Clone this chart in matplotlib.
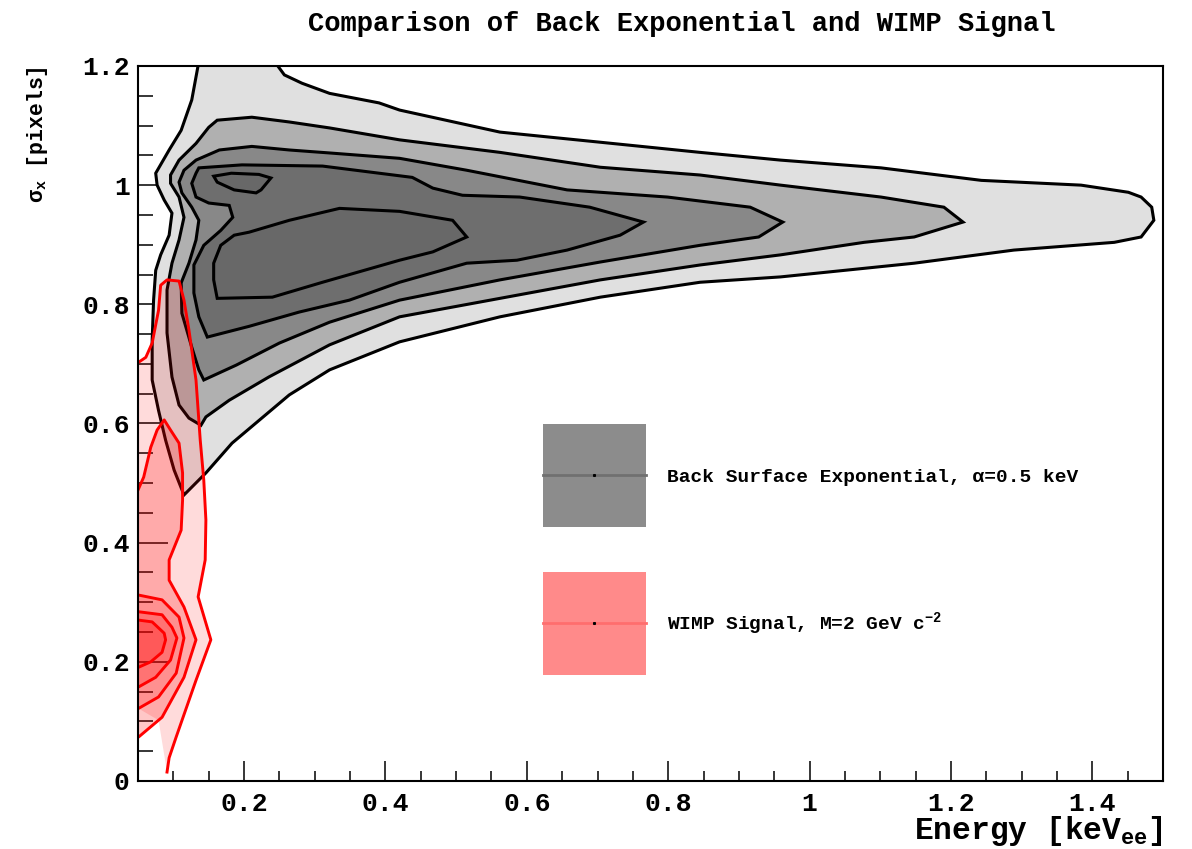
import numpy as np
import matplotlib.pyplot as plt
from matplotlib.patches import Rectangle, Patch
from matplotlib.lines import Line2D
from matplotlib.legend_handler import HandlerBase
from matplotlib.ticker import MultipleLocator, FuncFormatter

plt.rcParams['font.family'] = ['Liberation Mono', 'DejaVu Sans Mono']
plt.rcParams['font.weight'] = 'bold'
plt.rcParams['mathtext.fontset'] = 'custom'
plt.rcParams['mathtext.rm'] = 'Liberation Mono:bold'
plt.rcParams['mathtext.it'] = 'Liberation Mono:bold'
plt.rcParams['mathtext.bf'] = 'Liberation Mono:bold'

# ---- back surface exponential contours (energy [keV], sigma_x [pixels]) ----
bg1_e = [0.139, 0.244, 0.257, 0.282, 0.321, 0.391, 0.420, 0.562, 0.704, 0.845, 0.959, 1.101, 1.243,
         1.384, 1.451, 1.469, 1.484, 1.487, 1.469, 1.431, 1.289, 1.148, 0.959, 0.845, 0.704, 0.562,
         0.420, 0.321, 0.264, 0.217, 0.183, 0.146, 0.115, 0.101, 0.089, 0.079, 0.070, 0.070, 0.072,
         0.075, 0.082, 0.094, 0.098, 0.087, 0.077, 0.075, 0.094, 0.111, 0.126, 0.133]
bg1_s = [1.227, 1.206, 1.185, 1.171, 1.154, 1.138, 1.126, 1.089, 1.072, 1.055, 1.042, 1.029, 1.008,
         1.000, 0.988, 0.980, 0.963, 0.941, 0.913, 0.904, 0.891, 0.869, 0.846, 0.837, 0.812, 0.779,
         0.737, 0.690, 0.648, 0.601, 0.567, 0.517, 0.480, 0.522, 0.572, 0.622, 0.673, 0.740, 0.807,
         0.857, 0.883, 0.916, 0.953, 0.975, 1.000, 1.020, 1.059, 1.092, 1.143, 1.188]

bg2_e = [0.150, 0.162, 0.211, 0.264, 0.321, 0.420, 0.562, 0.704, 0.845, 0.959, 1.101, 1.190, 1.217,
         1.148, 1.077, 0.959, 0.845, 0.704, 0.562, 0.420, 0.321, 0.235, 0.179, 0.146, 0.139, 0.122,
         0.108, 0.098, 0.091, 0.091, 0.098, 0.108, 0.115, 0.108, 0.096, 0.096, 0.108, 0.132]
bg2_s = [1.097, 1.109, 1.114, 1.106, 1.096, 1.076, 1.055, 1.030, 1.017, 1.000, 0.980, 0.963, 0.938,
         0.913, 0.904, 0.883, 0.866, 0.841, 0.810, 0.779, 0.732, 0.678, 0.639, 0.611, 0.597, 0.609,
         0.631, 0.678, 0.752, 0.824, 0.869, 0.908, 0.946, 0.980, 1.003, 1.017, 1.042, 1.070]

bg3_e = [0.165, 0.211, 0.264, 0.321, 0.420, 0.515, 0.657, 0.799, 0.916, 0.962, 0.928, 0.845, 0.704,
         0.562, 0.420, 0.321, 0.250, 0.189, 0.143, 0.136, 0.126, 0.112, 0.111, 0.122, 0.132, 0.136,
         0.126, 0.112, 0.108, 0.115, 0.132]
bg3_s = [1.059, 1.065, 1.059, 1.054, 1.045, 1.025, 0.992, 0.980, 0.963, 0.938, 0.913, 0.899, 0.871,
         0.841, 0.807, 0.770, 0.735, 0.698, 0.673, 0.690, 0.728, 0.785, 0.836, 0.869, 0.908, 0.941,
         0.963, 0.987, 1.005, 1.025, 1.042]

bg4_e = [0.132, 0.136, 0.197, 0.311, 0.438, 0.467, 0.509, 0.590, 0.689, 0.765, 0.732, 0.657, 0.586,
         0.515, 0.420, 0.349, 0.278, 0.207, 0.148, 0.136, 0.129, 0.129, 0.143, 0.167, 0.184, 0.179,
         0.150, 0.132, 0.126]
bg4_s = [1.020, 1.029, 1.034, 1.032, 1.013, 0.995, 0.983, 0.980, 0.963, 0.938, 0.916, 0.891, 0.874,
         0.869, 0.837, 0.807, 0.787, 0.763, 0.745, 0.779, 0.819, 0.866, 0.899, 0.924, 0.946, 0.966,
         0.970, 0.980, 1.003]

bg5_e = [0.162, 0.157, 0.157, 0.167, 0.186, 0.207, 0.264, 0.335, 0.420, 0.495, 0.515, 0.467, 0.420,
         0.311, 0.240]
bg5_s = [0.810, 0.841, 0.869, 0.899, 0.916, 0.921, 0.941, 0.961, 0.956, 0.941, 0.913, 0.888, 0.874,
         0.837, 0.812]

bg5b_e = [0.157, 0.182, 0.221, 0.238, 0.224, 0.217, 0.186, 0.162]
bg5b_s = [1.015, 1.020, 1.018, 1.012, 0.992, 0.987, 0.992, 1.005]

# ---- WIMP signal contours ----
sig1_e = [0.030, 0.061, 0.070, 0.079, 0.082, 0.091, 0.108, 0.115, 0.122, 0.132, 0.138, 0.143, 0.146,
          0.145, 0.135, 0.153, 0.132, 0.104, 0.094, 0.091]
sig1_s = [0.686, 0.711, 0.735, 0.790, 0.832, 0.841, 0.839, 0.807, 0.757, 0.673, 0.572, 0.505, 0.438,
          0.371, 0.309, 0.237, 0.169, 0.074, 0.039, 0.015]
sig1_tail_e = [0.079, 0.030]   # unoutlined edge of the lowest level
sig1_tail_s = [0.102, 0.136]

sig2_e = [0.030, 0.048, 0.058, 0.068, 0.077, 0.087, 0.096, 0.108, 0.113, 0.113, 0.111, 0.094, 0.094,
          0.115, 0.132, 0.115, 0.084, 0.051, 0.030]
sig2_s = [0.471, 0.483, 0.510, 0.560, 0.589, 0.606, 0.589, 0.567, 0.517, 0.471, 0.421, 0.371, 0.337,
          0.292, 0.237, 0.174, 0.107, 0.074, 0.065]

sig3_e = [0.030, 0.051, 0.084, 0.108, 0.115, 0.104, 0.079, 0.051, 0.030]
sig3_s = [0.310, 0.312, 0.304, 0.275, 0.240, 0.181, 0.141, 0.122, 0.116]

sig4_e = [0.030, 0.051, 0.084, 0.098, 0.105, 0.096, 0.075, 0.051, 0.030]
sig4_s = [0.285, 0.284, 0.279, 0.258, 0.240, 0.203, 0.174, 0.158, 0.153]

sig5_e = [0.030, 0.051, 0.070, 0.087, 0.089, 0.084, 0.068, 0.051, 0.030]
sig5_s = [0.270, 0.270, 0.267, 0.248, 0.237, 0.216, 0.200, 0.191, 0.188]

bg_levels = [(bg1_e, bg1_s, '#e0e0e0'), (bg2_e, bg2_s, '#b0b0b0'), (bg3_e, bg3_s, '#888888'),
             (bg4_e, bg4_s, '#6e6e6e'), (bg5_e, bg5_s, '#686868'), (bg5b_e, bg5b_s, '#686868')]
sig_levels = [(sig2_e, sig2_s, 0.22), (sig3_e, sig3_s, 0.15), (sig4_e, sig4_s, 0.2), (sig5_e, sig5_s, 0.22)]

labels = ['Back Surface Exponential, \u03b1=0.5 keV', 'WIMP Signal, M=2 GeV c$^{-2}$']

fig = plt.figure(figsize=(11.92, 8.49), dpi=100)
ax = fig.add_axes([0.1158, 0.0801, 0.8599, 0.8422])

for e, s, c in bg_levels:
    ax.fill(e, s, facecolor=c, edgecolor='black', lw=2.2, zorder=2)

ax.fill(sig1_e + sig1_tail_e, sig1_s + sig1_tail_s, facecolor='red', alpha=0.14, lw=0, zorder=3)
ax.plot(sig1_e, sig1_s, color='red', lw=2.1, zorder=4)
for e, s, a in sig_levels:
    ax.fill(e, s, facecolor='red', alpha=a, lw=0, zorder=3)
    ax.plot(e, s, color='red', lw=2.1, zorder=4)

ax.set_xlim(0.05, 1.5)
ax.set_ylim(0, 1.2)
ax.xaxis.set_major_locator(MultipleLocator(0.2))
ax.xaxis.set_minor_locator(MultipleLocator(0.05))
ax.yaxis.set_major_locator(MultipleLocator(0.2))
ax.yaxis.set_minor_locator(MultipleLocator(0.05))
fmt = FuncFormatter(lambda v, p: f'{v:g}')
ax.xaxis.set_major_formatter(fmt)
ax.yaxis.set_major_formatter(fmt)
ax.tick_params(axis='x', which='major', direction='in', length=14.4, width=1.1, pad=8, labelsize=19)
ax.tick_params(axis='x', which='minor', direction='in', length=7.2, width=1.1)
ax.tick_params(axis='y', which='major', direction='in', length=21.6, width=1.1, pad=6, labelsize=19)
ax.tick_params(axis='y', which='minor', direction='in', length=10.8, width=1.1)
for sp in ax.spines.values():
    sp.set_linewidth(1.5)
    sp.set_zorder(5)

ax.set_xlabel('Energy [keV$_{ee}$]', fontsize=22.5, fontweight='bold', loc='right')
ax.xaxis.set_label_coords(1.0, -0.046)
ax.set_ylabel('\u03c3$_{x}$ [pixels]', fontsize=15.5, fontweight='bold', loc='top')
ax.yaxis.set_label_coords(-0.086, 1.0)

fig.text(0.572, 0.972, 'Comparison of Back Exponential and WIMP Signal',
         ha='center', va='center', fontsize=19.5, fontweight='bold')


class BoxHandler(HandlerBase):
    def __init__(self, line_color):
        super().__init__()
        self.line_color = line_color

    def create_artists(self, legend, orig_handle, xdescent, ydescent, width, height, fontsize, trans):
        yc = 0.33 * fontsize
        full = height + ydescent
        box = Rectangle((-xdescent, yc - full / 2), width, full,
                        facecolor=orig_handle.get_facecolor(), edgecolor='none', transform=trans)
        line = Line2D([-xdescent, -xdescent + width], [yc, yc], color=self.line_color, lw=2, transform=trans)
        dot = Line2D([-xdescent + width / 2], [yc], marker='s', ms=1.2, color='black', lw=0, transform=trans)
        return [box, line, dot]


h_bg = Patch(facecolor='#8c8c8c')
h_sig = Patch(facecolor='#ff8a8a')
ax.legend([h_bg, h_sig], labels, loc='upper left', bbox_to_anchor=(0.395, 0.475),
          frameon=False, borderpad=0, borderaxespad=0, fontsize=14,
          handlelength=5.3, handleheight=5.3, labelspacing=3.91, handletextpad=1.08,
          handler_map={h_bg: BoxHandler('#707070'), h_sig: BoxHandler('#ff6e6e')})

fig.savefig('out.png', dpi=100)
